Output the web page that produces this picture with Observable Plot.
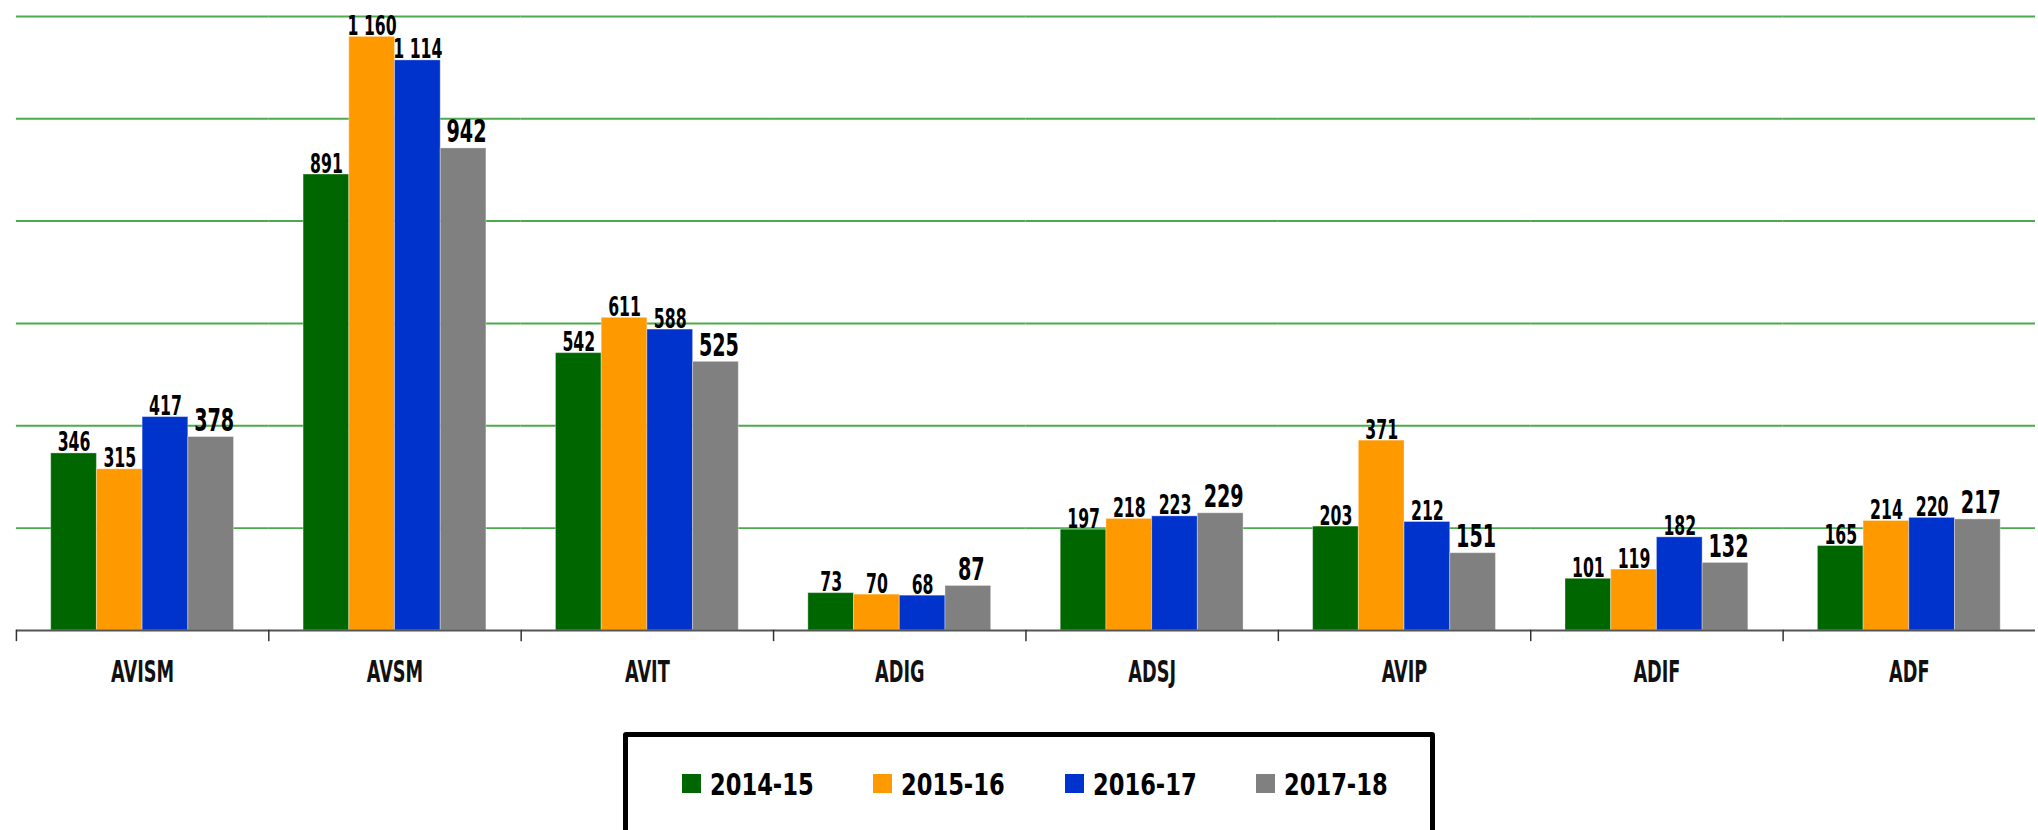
<!DOCTYPE html>
<html>
<head>
<meta charset="utf-8">
<script src="https://cdn.jsdelivr.net/npm/d3@7"></script>
<script src="https://cdn.jsdelivr.net/npm/@observablehq/plot@0.6"></script>
<style>
  html, body { margin: 0; padding: 0; background: #fff; overflow: hidden; }
  #chart svg { display: block; }
  .legend {
    position: absolute; left: 623px; top: 732px; width: 802px; height: 140px;
    border: 5px solid #000; border-radius: 3px; background: #fff;
    font-family: "DejaVu Sans Condensed", "DejaVu Sans", sans-serif;
    font-weight: bold; font-size: 31px; color: #000;
  }
  .legend .items { position: absolute; left: 54px; top: 37px; display: flex; }
  .legend .item { width: 191.3px; display: flex; align-items: center; height: 19px; }
  .legend .sw { width: 19px; height: 18.5px; margin-right: 9px; flex: none; }
  .legend .lbl { display: inline-block; transform: scaleX(0.81); transform-origin: left center; white-space: nowrap; }
</style>
</head>
<body>
<div id="chart"></div>
<script>
const categories = ["AVISM", "AVSM", "AVIT", "ADIG", "ADSJ", "AVIP", "ADIF", "ADF"];
const seriesNames = ["2014-15", "2015-16", "2016-17", "2017-18"];
const seriesColors = ["#006600", "#FF9900", "#0033CC", "#808080"];
const values2014_15 = [346, 891, 542, 73, 197, 203, 101, 165];
const values2015_16 = [315, 1160, 611, 70, 218, 371, 119, 214];
const values2016_17 = [417, 1114, 588, 68, 223, 212, 182, 220];
const values2017_18 = [378, 942, 525, 87, 229, 151, 132, 217];
const gridValues = [200, 400, 600, 800, 1000, 1200];

const allSeries = [values2014_15, values2015_16, values2016_17, values2017_18];
const data = [];
categories.forEach((c, i) => {
  seriesNames.forEach((s, j) => data.push({cat: c, series: s, value: allSeries[j][i]}));
});
const fmt = d3.formatLocale({decimal: ",", thousands: " ", grouping: [3], currency: ["", ""]}).format(",");
const font = '"DejaVu Sans Condensed", "DejaVu Sans", sans-serif';

const chart = Plot.plot({
  width: 2051,
  height: 730,
  marginLeft: 13,
  marginRight: 0,
  marginTop: 16,
  marginBottom: 96,
  style: {fontFamily: font, background: "#fff", color: "#111"},
  fx: {domain: categories, padding: 0, label: null},
  x: {domain: seriesNames, paddingOuter: 0.76, paddingInner: 0, axis: null},
  y: {domain: [0, 1200], axis: null},
  color: {domain: seriesNames, range: seriesColors},
  marks: [
    Plot.ruleY(gridValues, {stroke: "#4CAA4C", strokeWidth: 2}),
    Plot.barY(data, {fx: "cat", x: "series", y: "value", fill: "series", inset: 0, stroke: "#fff", strokeOpacity: 0.35, strokeWidth: 1}),
    Plot.ruleY([0], {stroke: "#555", strokeWidth: 2}),
    Plot.frame({anchor: "left", stroke: "#333", strokeWidth: 1.5, insetTop: 618, insetBottom: -10}),
    Plot.text(data.filter(d => d.series !== "2017-18"), {fx: "cat", x: "series", y: "value", text: d => fmt(d.value), lineAnchor: "bottom", dy: -2, fontSize: 27, fontWeight: "bold", fill: "#000"}),
    Plot.text(data.filter(d => d.series === "2017-18"), {fx: "cat", x: "series", y: "value", text: d => fmt(d.value), lineAnchor: "bottom", dy: -6, dx: 3, fontSize: 33, fontWeight: "bold", fill: "#000"}),
    Plot.axisFx({anchor: "bottom", tickSize: 0, tickPadding: 31, fontSize: 30, fontWeight: "bold", label: null})
  ]
});
document.getElementById("chart").append(chart);

// condense the text horizontally (the original uses a condensed typeface)
function squeeze(selector, factor) {
  chart.querySelectorAll(selector).forEach(el => {
    const len = el.getComputedTextLength();
    if (len > 0) {
      el.setAttribute("textLength", len * factor);
      el.setAttribute("lengthAdjust", "spacingAndGlyphs");
    }
  });
}
squeeze('g[aria-label="text"] text', 0.65);
squeeze('g[aria-label="fx-axis tick label"] text', 0.66);

const legend = document.createElement("div");
legend.className = "legend";
const items = document.createElement("div");
items.className = "items";
seriesNames.forEach((s, i) => {
  const it = document.createElement("div");
  it.className = "item";
  const sw = document.createElement("span");
  sw.className = "sw";
  sw.style.background = seriesColors[i];
  const t = document.createElement("span");
  t.className = "lbl";
  t.textContent = s;
  it.append(sw, t);
  items.append(it);
});
legend.append(items);
document.body.append(legend);
</script>
</body>
</html>
